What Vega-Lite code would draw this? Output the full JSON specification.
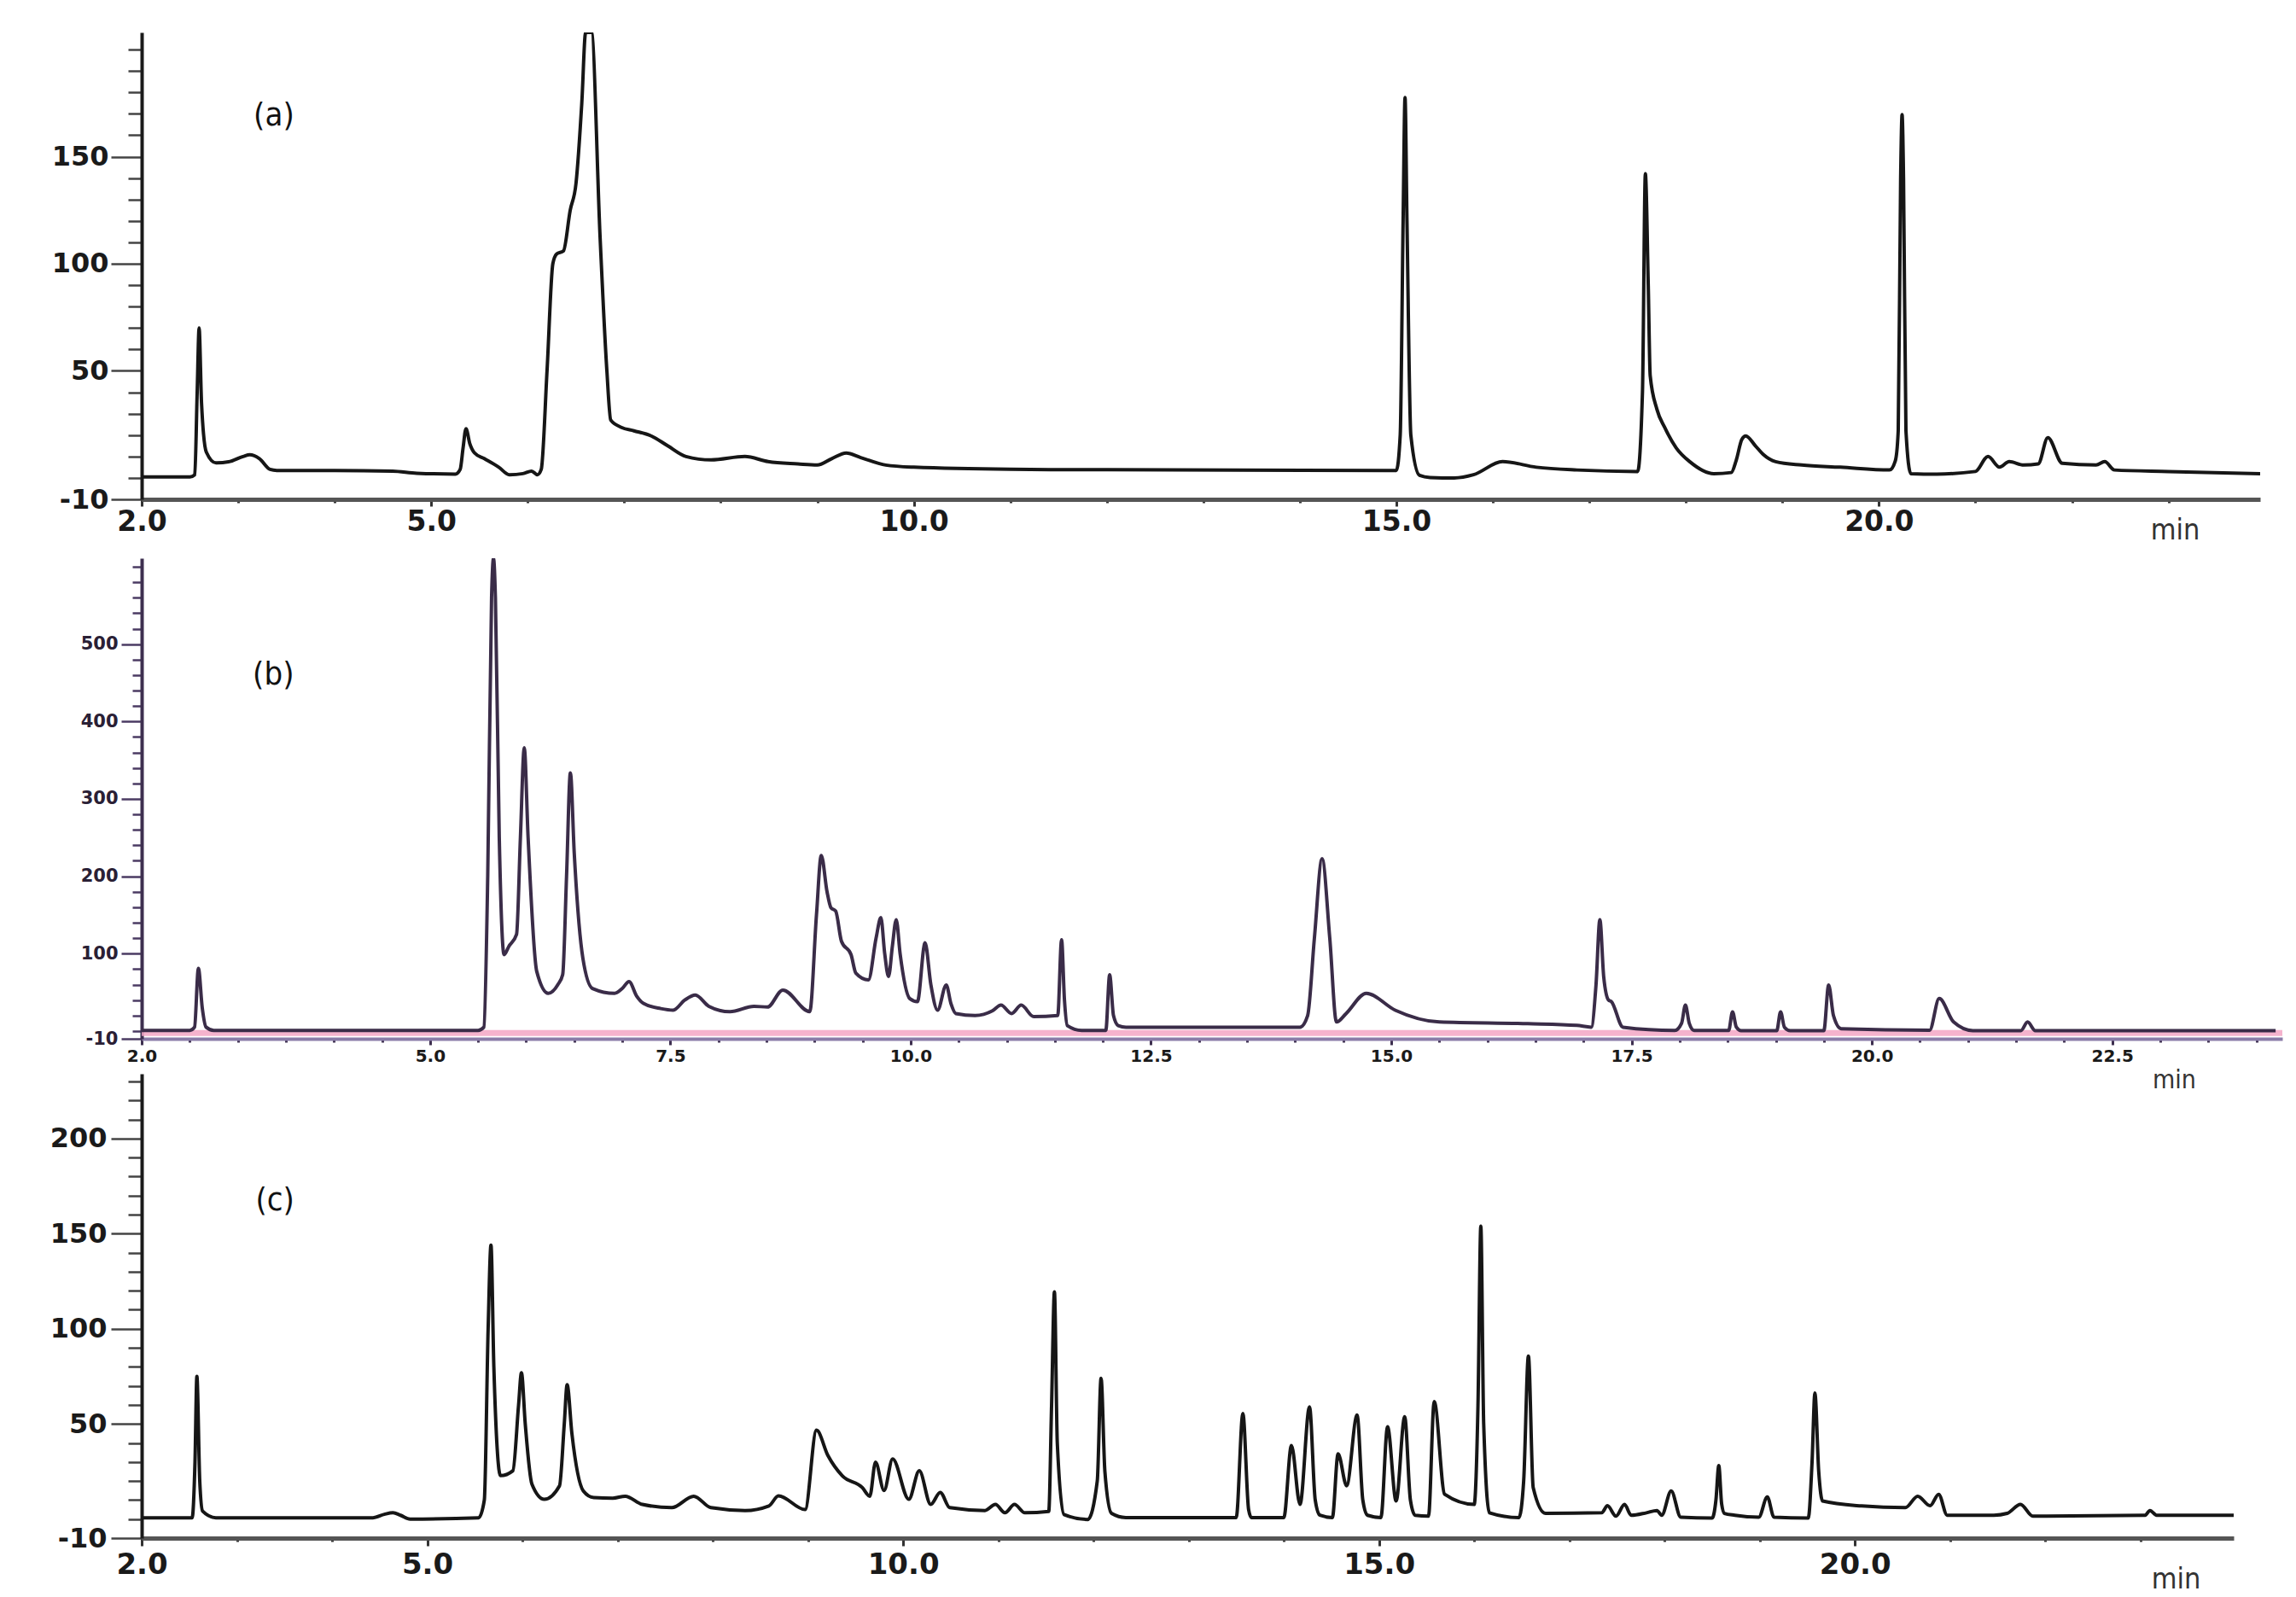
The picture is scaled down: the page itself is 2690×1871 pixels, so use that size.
{
"$schema": "https://vega.github.io/schema/vega-lite/v6.json",
"background": "white",
"padding": {"left": 58, "top": 38, "right": 10, "bottom": 5},
"config": {"view": {"stroke": null}, "axis": {"grid": false, "labelFont": "DejaVu Sans", "labelFontWeight": "bold", "labelColor": "#1a1a1a", "labelOverlap": false, "labelFlush": false, "titleFont": "Liberation Sans Narrow, DejaVu Sans Condensed, sans-serif", "titleFontWeight": "normal", "titleColor": "#333333"}},
"datasets": {
"a": [
{"t":2.0,"v":0.5},{"t":2.5,"v":0.5},{"t":2.55,"v":1.5},{"t":2.575,"v":40},{"t":2.595,"v":70},{"t":2.62,"v":35},{"t":2.67,"v":12},{"t":2.77,"v":7},{"t":2.9,"v":7.5},{"t":3.05,"v":10},{"t":3.12,"v":10.8},{"t":3.22,"v":9},{"t":3.33,"v":4},{"t":3.4,"v":3.5},{"t":4.0,"v":3.5},{"t":4.6,"v":3.2},{"t":4.85,"v":2.2},{"t":5.25,"v":1.8},{"t":5.3,"v":4},{"t":5.33,"v":14},{"t":5.36,"v":23},{"t":5.4,"v":16},{"t":5.45,"v":11.6},{"t":5.55,"v":9},{"t":5.7,"v":5},{"t":5.81,"v":1.5},{"t":5.95,"v":2},{"t":6.04,"v":3.2},{"t":6.1,"v":1.5},{"t":6.14,"v":4},{"t":6.2,"v":50},{"t":6.26,"v":100},{"t":6.3,"v":104.6},{"t":6.37,"v":106},{"t":6.44,"v":125},{"t":6.5,"v":137.5},{"t":6.56,"v":175},{"t":6.6,"v":208},{"t":6.66,"v":208},{"t":6.75,"v":112},{"t":6.82,"v":50},{"t":6.86,"v":27},{"t":6.97,"v":23.6},{"t":7.1,"v":22},{"t":7.28,"v":19.6},{"t":7.45,"v":15},{"t":7.64,"v":10},{"t":7.9,"v":8.4},{"t":8.25,"v":10},{"t":8.49,"v":7.6},{"t":8.8,"v":6.5},{"t":9.0,"v":6},{"t":9.15,"v":9},{"t":9.3,"v":11.6},{"t":9.45,"v":9.5},{"t":9.71,"v":6},{"t":10.0,"v":5},{"t":11.0,"v":4},{"t":12.0,"v":3.8},{"t":14.9,"v":3.5},{"t":15.0,"v":3.5},{"t":15.04,"v":20},{"t":15.07,"v":120},{"t":15.09,"v":177.6},{"t":15.11,"v":120},{"t":15.15,"v":20},{"t":15.24,"v":1.2},{"t":15.35,"v":0.2},{"t":15.6,"v":0},{"t":15.8,"v":1.5},{"t":16.1,"v":7.6},{"t":16.45,"v":5},{"t":16.87,"v":3.7},{"t":17.5,"v":3},{"t":17.55,"v":40},{"t":17.58,"v":142},{"t":17.61,"v":90},{"t":17.63,"v":47.8},{"t":17.7,"v":32},{"t":17.78,"v":23.6},{"t":17.9,"v":14},{"t":18.04,"v":7.6},{"t":18.29,"v":2},{"t":18.47,"v":2.5},{"t":18.52,"v":8},{"t":18.58,"v":18},{"t":18.62,"v":19.6},{"t":18.72,"v":15},{"t":18.8,"v":11},{"t":18.93,"v":7.6},{"t":19.2,"v":6},{"t":19.6,"v":5},{"t":20.11,"v":3.7},{"t":20.17,"v":8},{"t":20.2,"v":22},{"t":20.225,"v":140},{"t":20.24,"v":169.6},{"t":20.255,"v":140},{"t":20.28,"v":22},{"t":20.33,"v":2},{"t":20.6,"v":1.8},{"t":21.0,"v":3},{"t":21.13,"v":10},{"t":21.25,"v":5},{"t":21.35,"v":7.6},{"t":21.5,"v":6},{"t":21.65,"v":6.5},{"t":21.75,"v":18.8},{"t":21.9,"v":6.8},{"t":22.25,"v":6},{"t":22.34,"v":7.6},{"t":22.44,"v":3.7},{"t":23.0,"v":3},{"t":23.95,"v":2}
],
"b": [
{"t":2.0,"v":0.8},{"t":2.5,"v":0.8},{"t":2.55,"v":5},{"t":2.59,"v":81},{"t":2.63,"v":30},{"t":2.67,"v":5},{"t":2.75,"v":0.8},{"t":5.5,"v":0.8},{"t":5.56,"v":5},{"t":5.6,"v":200},{"t":5.64,"v":560},{"t":5.66,"v":611},{"t":5.68,"v":560},{"t":5.72,"v":250},{"t":5.77,"v":98.7},{"t":5.82,"v":109.5},{"t":5.9,"v":125},{"t":5.94,"v":250},{"t":5.98,"v":366},{"t":6.02,"v":250},{"t":6.11,"v":77},{"t":6.23,"v":48.7},{"t":6.33,"v":60},{"t":6.38,"v":73},{"t":6.42,"v":200},{"t":6.46,"v":333.6},{"t":6.5,"v":230},{"t":6.59,"v":94},{"t":6.69,"v":55},{"t":6.92,"v":48.7},{"t":7.0,"v":55},{"t":7.07,"v":64},{"t":7.15,"v":45},{"t":7.22,"v":35.7},{"t":7.4,"v":29},{"t":7.53,"v":27},{"t":7.65,"v":40},{"t":7.76,"v":46.5},{"t":7.9,"v":32},{"t":8.12,"v":25},{"t":8.37,"v":32},{"t":8.51,"v":31},{"t":8.67,"v":53},{"t":8.95,"v":25},{"t":9.02,"v":150},{"t":9.07,"v":227},{"t":9.13,"v":180},{"t":9.17,"v":159.5},{"t":9.22,"v":155},{"t":9.28,"v":116},{"t":9.38,"v":98.6},{"t":9.43,"v":74.8},{"t":9.56,"v":66},{"t":9.64,"v":120},{"t":9.69,"v":146.5},{"t":9.73,"v":100},{"t":9.77,"v":70.5},{"t":9.81,"v":110},{"t":9.85,"v":144},{"t":9.89,"v":100},{"t":9.99,"v":42},{"t":10.07,"v":38},{"t":10.15,"v":114},{"t":10.21,"v":60},{"t":10.28,"v":27},{"t":10.37,"v":59.5},{"t":10.42,"v":35},{"t":10.47,"v":22.6},{"t":10.67,"v":20},{"t":10.85,"v":26},{"t":10.94,"v":33.5},{"t":11.05,"v":22.6},{"t":11.15,"v":33.5},{"t":11.28,"v":18.6},{"t":11.53,"v":20},{"t":11.57,"v":118},{"t":11.6,"v":40},{"t":11.63,"v":7},{"t":11.78,"v":0.8},{"t":12.03,"v":0.8},{"t":12.07,"v":72.6},{"t":12.11,"v":20},{"t":12.16,"v":7},{"t":12.24,"v":5},{"t":14.05,"v":5},{"t":14.13,"v":20},{"t":14.2,"v":120},{"t":14.28,"v":222.6},{"t":14.36,"v":120},{"t":14.43,"v":11.7},{"t":14.53,"v":22.6},{"t":14.74,"v":48.7},{"t":15.04,"v":27},{"t":15.5,"v":11.7},{"t":16.42,"v":9.5},{"t":16.93,"v":7.3},{"t":17.08,"v":5},{"t":17.13,"v":60},{"t":17.17,"v":144},{"t":17.21,"v":70},{"t":17.26,"v":40},{"t":17.29,"v":38},{"t":17.41,"v":5},{"t":17.95,"v":0.8},{"t":18.02,"v":10},{"t":18.06,"v":33.5},{"t":18.1,"v":10},{"t":18.15,"v":0.8},{"t":18.51,"v":0.8},{"t":18.55,"v":24.8},{"t":18.59,"v":5},{"t":18.64,"v":0.5},{"t":19.01,"v":0.5},{"t":19.05,"v":24.8},{"t":19.09,"v":5},{"t":19.15,"v":0.5},{"t":19.5,"v":0.5},{"t":19.55,"v":59.5},{"t":19.6,"v":20},{"t":19.68,"v":3},{"t":20.6,"v":1},{"t":20.7,"v":42},{"t":20.85,"v":11.7},{"t":21.05,"v":0.5},{"t":21.55,"v":0.5},{"t":21.62,"v":11.7},{"t":21.7,"v":0.5},{"t":24.2,"v":0.5}
],
"bbase": [{"t":2.0,"v":-2.5},{"t":24.27,"v":-2.5}],
"c": [
{"t":2.0,"v":0.65},{"t":2.53,"v":0.65},{"t":2.56,"v":30},{"t":2.58,"v":75},{"t":2.61,"v":20},{"t":2.64,"v":4.2},{"t":2.78,"v":0.7},{"t":4.43,"v":0.7},{"t":4.55,"v":2.5},{"t":4.64,"v":3.3},{"t":4.72,"v":2},{"t":4.82,"v":0},{"t":5.54,"v":0.7},{"t":5.6,"v":10},{"t":5.64,"v":100},{"t":5.67,"v":144},{"t":5.7,"v":80},{"t":5.77,"v":22.8},{"t":5.9,"v":25.4},{"t":5.96,"v":60},{"t":5.99,"v":76.9},{"t":6.03,"v":50},{"t":6.1,"v":18.4},{"t":6.23,"v":10.4},{"t":6.39,"v":17.5},{"t":6.44,"v":50},{"t":6.47,"v":70.6},{"t":6.52,"v":45},{"t":6.64,"v":14.8},{"t":6.75,"v":11.3},{"t":6.95,"v":11},{"t":7.08,"v":12},{"t":7.26,"v":7.7},{"t":7.57,"v":6},{"t":7.8,"v":12},{"t":7.98,"v":6},{"t":8.34,"v":4.5},{"t":8.59,"v":6.9},{"t":8.69,"v":12.2},{"t":8.97,"v":5},{"t":9.09,"v":46.7},{"t":9.21,"v":33.4},{"t":9.36,"v":22.8},{"t":9.57,"v":16.6},{"t":9.65,"v":12},{"t":9.71,"v":29.9},{"t":9.8,"v":15},{"t":9.89,"v":31.6},{"t":10.06,"v":10.4},{"t":10.17,"v":25.4},{"t":10.29,"v":7.7},{"t":10.39,"v":14},{"t":10.49,"v":6},{"t":10.86,"v":4.5},{"t":10.97,"v":7.7},{"t":11.07,"v":3.3},{"t":11.17,"v":7.7},{"t":11.28,"v":3.3},{"t":11.53,"v":4},{"t":11.56,"v":60},{"t":11.59,"v":119.4},{"t":11.62,"v":40},{"t":11.69,"v":2.4},{"t":11.94,"v":-0.2},{"t":12.04,"v":20},{"t":12.08,"v":74},{"t":12.12,"v":25},{"t":12.19,"v":3},{"t":12.34,"v":0.8},{"t":13.5,"v":0.8},{"t":13.57,"v":55.5},{"t":13.63,"v":5},{"t":13.66,"v":0.8},{"t":14.0,"v":0.8},{"t":14.08,"v":38.7},{"t":14.17,"v":7.7},{"t":14.27,"v":59},{"t":14.33,"v":10},{"t":14.38,"v":2},{"t":14.51,"v":0.8},{"t":14.57,"v":34.3},{"t":14.66,"v":17.5},{"t":14.77,"v":54.7},{"t":14.83,"v":10},{"t":14.88,"v":2},{"t":15.02,"v":0.8},{"t":15.09,"v":48.5},{"t":15.18,"v":9.5},{"t":15.27,"v":53.8},{"t":15.33,"v":10},{"t":15.38,"v":2},{"t":15.52,"v":1.5},{"t":15.58,"v":61.8},{"t":15.69,"v":13},{"t":16.0,"v":7.7},{"t":16.04,"v":60},{"t":16.07,"v":153.9},{"t":16.1,"v":50},{"t":16.16,"v":3.3},{"t":16.47,"v":0.8},{"t":16.52,"v":20},{"t":16.57,"v":85.7},{"t":16.62,"v":16.6},{"t":16.75,"v":3},{"t":17.34,"v":3.3},{"t":17.4,"v":7},{"t":17.49,"v":1.5},{"t":17.58,"v":7.7},{"t":17.65,"v":2},{"t":17.81,"v":3.3},{"t":17.92,"v":4.5},{"t":17.97,"v":2},{"t":18.07,"v":14.8},{"t":18.17,"v":1},{"t":18.5,"v":0.5},{"t":18.54,"v":10},{"t":18.57,"v":28.1},{"t":18.6,"v":8},{"t":18.63,"v":3},{"t":18.74,"v":2},{"t":18.99,"v":1},{"t":19.08,"v":11.6},{"t":19.15,"v":1},{"t":19.51,"v":0.5},{"t":19.55,"v":30},{"t":19.58,"v":66.2},{"t":19.62,"v":25},{"t":19.66,"v":9.5},{"t":20.07,"v":6.9},{"t":20.53,"v":6},{"t":20.66,"v":12},{"t":20.79,"v":7},{"t":20.88,"v":13},{"t":20.97,"v":2},{"t":21.46,"v":2},{"t":21.6,"v":3},{"t":21.74,"v":7.7},{"t":21.87,"v":1.5},{"t":23.05,"v":2},{"t":23.1,"v":4.5},{"t":23.17,"v":2},{"t":23.98,"v":2}
],
"labels": [{"panel":"a","t":3.37,"v":169,"label":"(a)"},{"panel":"b","t":3.37,"v":460,"label":"(b)"},{"panel":"c","t":3.4,"v":167,"label":"(c)"}]
},
"bounds": "flush",
"spacing": 69,
"vconcat": [
{
"width": 2482, "height": 547,
"resolve": {"axis": {"x": "independent", "y": "independent"}},
"layer": [
{"data": {"name": "a"},
 "mark": {"type": "line", "interpolate": "monotone", "color": "#161616", "strokeWidth": 4, "clip": true},
 "encoding": {
  "x": {"field": "t", "type": "quantitative", "scale": {"domain": [2, 23.95], "nice": false, "zero": false},
   "axis": {"orient": "bottom", "values": [2,3,4,5,6,7,8,9,10,11,12,13,14,15,16,17,18,19,20,21,22,23], "labelExpr": "indexof([2,5,10,15,20], datum.value) >= 0 ? format(datum.value, '.1f') : ''", "labelOverlap": false, "labelFontSize": 33, "labelPadding": 2, "tickSize": {"condition": {"test": "indexof([2,5,10,15,20], datum.value) >= 0", "value": 8}, "value": 4}, "tickWidth": 3, "tickColor": "#333333", "domainColor": "#555555", "domainWidth": 5, "title": "min", "titleX": 2382, "titleY": 36, "titleAlign": "center", "titleBaseline": "middle", "titleFontSize": 34}},
  "y": {"field": "v", "type": "quantitative", "scale": {"domain": [-10, 208], "nice": false, "zero": false},
   "axis": {"orient": "left", "values": [-10,0,10,20,30,40,50,60,70,80,90,100,110,120,130,140,150,160,170,180,190,200], "labelExpr": "indexof([-10,50,100,150], datum.value) >= 0 ? '' + datum.value : ''", "labelOverlap": false, "labelFontSize": 32, "labelPadding": 3, "tickSize": {"condition": {"test": "indexof([-10,50,100,150], datum.value) >= 0", "value": 36}, "value": 16}, "tickWidth": 2.5, "tickColor": "#444444", "domainColor": "#1a1a1a", "domainWidth": 4, "title": null}}
 }},
{"data": {"name": "labels"}, "transform": [{"filter": "datum.panel == 'a'"}],
 "mark": {"type": "text", "font": "Liberation Sans Narrow, DejaVu Sans Condensed, sans-serif", "fontSize": 38, "color": "#111111"},
 "encoding": {"x": {"field": "t", "type": "quantitative", "axis": null}, "y": {"field": "v", "type": "quantitative", "axis": null}, "text": {"field": "label"}}}
]
},
{
"bounds": "flush",
"spacing": 41,
"vconcat": [
{
"width": 2508, "height": 563,
"resolve": {"axis": {"x": "independent", "y": "independent"}},
"layer": [
{"data": {"name": "bbase"},
 "mark": {"type": "line", "color": "#f3a6c4", "strokeWidth": 7, "opacity": 0.85, "clip": true},
 "encoding": {
  "x": {"field": "t", "type": "quantitative", "scale": {"domain": [2, 24.27], "nice": false, "zero": false},
   "axis": {"orient": "bottom", "values": [2,2.5,3,3.5,4,4.5,5,5.5,6,6.5,7,7.5,8,8.5,9,9.5,10,10.5,11,11.5,12,12.5,13,13.5,14,14.5,15,15.5,16,16.5,17,17.5,18,18.5,19,19.5,20,20.5,21,21.5,22,22.5,23,23.5,24], "labelExpr": "indexof([2,5,7.5,10,12.5,15,17.5,20,22.5], datum.value) >= 0 ? format(datum.value, '.1f') : ''", "labelOverlap": false, "labelFontSize": 20, "labelPadding": 3, "tickSize": {"condition": {"test": "indexof([2,5,7.5,10,12.5,15,17.5,20,22.5], datum.value) >= 0", "value": 7}, "value": 4}, "tickWidth": 3, "tickColor": "#3d2f4f", "domainColor": "#8a7ca8", "domainWidth": 4, "title": "min", "titleX": 2381, "titleY": 48, "titleAlign": "center", "titleBaseline": "middle", "titleFontSize": 30}},
  "y": {"field": "v", "type": "quantitative", "scale": {"domain": [-10, 611], "nice": false, "zero": false},
   "axis": {"orient": "left", "values": [-10,0,20,40,60,80,100,120,140,160,180,200,220,240,260,280,300,320,340,360,380,400,420,440,460,480,500,520,540,560,580,600], "labelExpr": "indexof([-10,100,200,300,400,500], datum.value) >= 0 ? '' + datum.value : ''", "labelOverlap": false, "labelFontSize": 21, "labelPadding": 4, "labelColor": "#2a2035", "tickSize": {"condition": {"test": "indexof([-10,100,200,300,400,500], datum.value) >= 0", "value": 24}, "value": 11}, "tickWidth": 2.5, "tickColor": "#4b3b63", "domainColor": "#3d2f4f", "domainWidth": 4, "title": null}}
 }},
{"data": {"name": "b"},
 "mark": {"type": "line", "interpolate": "monotone", "color": "#3a2c48", "strokeWidth": 4, "clip": true},
 "encoding": {"x": {"field": "t", "type": "quantitative", "axis": null}, "y": {"field": "v", "type": "quantitative", "axis": null}}},
{"data": {"name": "labels"}, "transform": [{"filter": "datum.panel == 'b'"}],
 "mark": {"type": "text", "font": "Liberation Sans Narrow, DejaVu Sans Condensed, sans-serif", "fontSize": 38, "color": "#111111"},
 "encoding": {"x": {"field": "t", "type": "quantitative", "axis": null}, "y": {"field": "v", "type": "quantitative", "axis": null}, "text": {"field": "label"}}}
]
},
{
"width": 2451, "height": 544,
"resolve": {"axis": {"x": "independent", "y": "independent"}},
"layer": [
{"data": {"name": "c"},
 "mark": {"type": "line", "interpolate": "monotone", "color": "#161616", "strokeWidth": 4, "clip": true},
 "encoding": {
  "x": {"field": "t", "type": "quantitative", "scale": {"domain": [2, 23.98], "nice": false, "zero": false},
   "axis": {"orient": "bottom", "values": [2,3,4,5,6,7,8,9,10,11,12,13,14,15,16,17,18,19,20,21,22,23], "labelExpr": "indexof([2,5,10,15,20], datum.value) >= 0 ? format(datum.value, '.1f') : ''", "labelOverlap": false, "labelFontSize": 34, "labelPadding": 5, "tickSize": {"condition": {"test": "indexof([2,5,10,15,20], datum.value) >= 0", "value": 9}, "value": 4}, "tickWidth": 3, "tickColor": "#333333", "domainColor": "#555555", "domainWidth": 5, "title": "min", "titleX": 2383, "titleY": 48, "titleAlign": "center", "titleBaseline": "middle", "titleFontSize": 34}},
  "y": {"field": "v", "type": "quantitative", "scale": {"domain": [-10, 234], "nice": false, "zero": false},
   "axis": {"orient": "left", "values": [-10,0,10,20,30,40,50,60,70,80,90,100,110,120,130,140,150,160,170,180,190,200,210,220,230], "labelExpr": "indexof([-10,50,100,150,200], datum.value) >= 0 ? '' + datum.value : ''", "labelOverlap": false, "labelFontSize": 32, "labelPadding": 5, "tickSize": {"condition": {"test": "indexof([-10,50,100,150,200], datum.value) >= 0", "value": 36}, "value": 16}, "tickWidth": 2.5, "tickColor": "#444444", "domainColor": "#1a1a1a", "domainWidth": 4, "title": null}}
 }},
{"data": {"name": "labels"}, "transform": [{"filter": "datum.panel == 'c'"}],
 "mark": {"type": "text", "font": "Liberation Sans Narrow, DejaVu Sans Condensed, sans-serif", "fontSize": 38, "color": "#111111"},
 "encoding": {"x": {"field": "t", "type": "quantitative", "axis": null}, "y": {"field": "v", "type": "quantitative", "axis": null}, "text": {"field": "label"}}}
]
}
]
}
]
}
